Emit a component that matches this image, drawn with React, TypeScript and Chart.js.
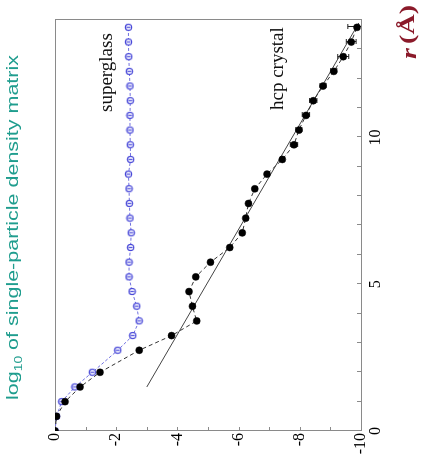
import React, { useEffect, useRef } from 'react';
import { Chart, registerables } from 'chart.js';
Chart.register(...registerables);

// r (Å) positions of the samples
const hcpR = [0, 0.5, 1.0, 1.5, 2.0, 2.75, 3.25, 3.75, 4.25, 4.75, 5.25, 5.75, 6.25, 6.75, 7.25, 7.75, 8.25, 8.75, 9.25, 9.75, 10.25, 10.75, 11.25, 11.75, 12.25, 12.75, 13.25, 13.75];
const hcpLog = [0, -0.05, -0.33, -0.82, -1.47, -2.75, -3.81, -4.63, -4.49, -4.38, -4.6, -5.08, -5.71, -6.12, -6.23, -6.32, -6.53, -6.93, -7.43, -7.81, -7.97, -8.2, -8.44, -8.76, -9.11, -9.42, -9.68, -9.87];

const glassR = [0, 0.5, 1.0, 1.5, 2.0, 2.75, 3.25, 3.75, 4.25, 4.75, 5.25, 5.75, 6.25, 6.75, 7.25, 7.75, 8.25, 8.75, 9.25, 9.75, 10.25, 10.75, 11.25, 11.75, 12.25, 12.75, 13.25, 13.75];
const glassLog = [0, -0.05, -0.22, -0.65, -1.22, -2.05, -2.54, -2.75, -2.67, -2.52, -2.42, -2.42, -2.47, -2.49, -2.45, -2.43, -2.42, -2.4, -2.47, -2.46, -2.45, -2.45, -2.46, -2.45, -2.43, -2.41, -2.4, -2.4];

// error bars of the hcp crystal points
const errR = [9.25, 9.75, 10.25, 10.75, 11.25, 11.75, 12.25, 12.75, 13.25, 13.75];
const errSize = [0.06, 0.12, 0.1, 0.12, 0.12, 0.1, 0.1, 0.18, 0.16, 0.3];

// straight-line fit
const fitR = [1.5, 13.9];
const fitLog = [-3.0, -9.93];

const xTickValues = [0, 5, 10];
const xTickLabels = ['0', '5', '10'];
const yTickValues = [0, -2, -4, -6, -8, -10];
const yTickLabels = ['0', '-2', '-4', '-6', '-8', '-10'];

const titleParts = ['log', '10', ' of single-particle density matrix'];
const glassLabel = 'superglass';
const hcpLabel = 'hcp crystal';
const xTitleParts = ['r', '(Å)'];

const W = 461;
const H = 423;

export default function App() {
  const ref = useRef<HTMLCanvasElement>(null);

  useEffect(() => {
    const canvas = ref.current!;

    const marker = document.createElement('canvas');
    marker.width = 9;
    marker.height = 9;
    const m = marker.getContext('2d')!;
    m.strokeStyle = '#4848d8';
    m.fillStyle = '#e4e4fa';
    m.lineWidth = 1.1;
    m.beginPath();
    m.arc(4.5, 4.5, 3.1, 0, Math.PI * 2);
    m.fill();
    m.stroke();
    m.lineWidth = 0.9;
    m.beginPath();
    m.moveTo(4.5, 2.6);
    m.lineTo(4.5, 6.4);
    m.stroke();

    const framePlugin = {
      id: 'frame',
      beforeDatasetsDraw(chart: any) {
        const { ctx, chartArea: a, scales } = chart;
        ctx.save();
        ctx.strokeStyle = '#8a8a8a';
        ctx.lineWidth = 1;
        ctx.strokeRect(Math.round(a.left) + 0.5, Math.round(a.top) + 0.5, Math.round(a.right - a.left), Math.round(a.bottom - a.top));
        const tl = 4;
        ctx.beginPath();
        scales.x.ticks.forEach((t: any) => {
          const px = Math.round(scales.x.getPixelForValue(t.value)) + 0.5;
          ctx.moveTo(px, a.bottom);
          ctx.lineTo(px, a.bottom - tl);
        });
        scales.y.ticks.forEach((t: any) => {
          const py = Math.round(scales.y.getPixelForValue(t.value)) + 0.5;
          ctx.moveTo(a.left, py);
          ctx.lineTo(a.left + tl, py);
        });
        ctx.stroke();
        ctx.restore();
      },
    };

    const errorPlugin = {
      id: 'errs',
      beforeDatasetsDraw(chart: any) {
        const { ctx, chartArea: a, scales } = chart;
        ctx.save();
        ctx.beginPath();
        ctx.rect(a.left, a.top, a.right - a.left, a.bottom - a.top);
        ctx.clip();
        ctx.strokeStyle = '#222';
        ctx.lineWidth = 1;
        ctx.beginPath();
        errR.forEach((r, i) => {
          const yv = hcpLog[hcpR.indexOf(r)];
          const px = Math.round(scales.x.getPixelForValue(r)) + 0.5;
          const p1 = scales.y.getPixelForValue(yv + errSize[i]);
          const p2 = scales.y.getPixelForValue(yv - errSize[i]);
          ctx.moveTo(px, p1);
          ctx.lineTo(px, p2);
          ctx.moveTo(px - 2.5, p1);
          ctx.lineTo(px + 2.5, p1);
          ctx.moveTo(px - 2.5, p2);
          ctx.lineTo(px + 2.5, p2);
        });
        ctx.stroke();
        ctx.restore();
      },
    };

    const textPlugin = {
      id: 'texts',
      afterDraw(chart: any) {
        const { ctx } = chart;
        ctx.save();
        ctx.textBaseline = 'alphabetic';
        ctx.textAlign = 'left';

        // title (teal), stretched along the text
        const big = '17px "Liberation Sans", Arial, sans-serif';
        const small = '11px "Liberation Sans", Arial, sans-serif';
        ctx.font = big;
        const w0 = ctx.measureText(titleParts[0]).width;
        ctx.font = small;
        const w1 = ctx.measureText(titleParts[1]).width;
        ctx.font = big;
        const w2 = ctx.measureText(titleParts[2]).width;
        const sx = 345 / (w0 + w1 + w2);
        ctx.save();
        ctx.translate(61, 18);
        ctx.scale(sx, 1);
        ctx.fillStyle = '#1f9d8e';
        ctx.font = big;
        ctx.fillText(titleParts[0], 0, 0);
        ctx.font = small;
        ctx.fillText(titleParts[1], w0, 4);
        ctx.font = big;
        ctx.fillText(titleParts[2], w0 + w1, 0);
        ctx.restore();

        // annotations
        ctx.fillStyle = '#111';
        ctx.font = '19px "Liberation Serif", "Times New Roman", serif';
        ctx.fillText(glassLabel, 349, 112);
        ctx.fillText(hcpLabel, 351, 283);

        // x-axis title r (Å), stretched like the title
        ctx.save();
        ctx.translate(402, 416);
        ctx.scale(1.4, 1);
        ctx.fillStyle = '#8b1a2a';
        ctx.font = 'italic bold 20px "Liberation Serif", serif';
        const wr = ctx.measureText(xTitleParts[0]).width;
        ctx.fillText(xTitleParts[0], 0, 0);
        ctx.font = 'bold 20px "Liberation Serif", serif';
        ctx.fillText(xTitleParts[1], wr + 3, -2);
        ctx.restore();
        ctx.restore();
      },
    };

    const chart = new Chart(canvas, {
      type: 'scatter',
      data: {
        datasets: [
          {
            label: 'hcp crystal',
            data: hcpR.map((r, i) => ({ x: r, y: hcpLog[i] })),
            showLine: true,
            borderColor: '#333',
            borderWidth: 1,
            borderDash: [4, 3],
            pointRadius: 3.5,
            pointBackgroundColor: '#000',
            pointBorderColor: '#000',
            pointBorderWidth: 0.5,
          },
          {
            label: 'superglass',
            data: glassR.map((r, i) => ({ x: r, y: glassLog[i] })),
            showLine: true,
            borderColor: '#7070e0',
            borderWidth: 1,
            borderDash: [3, 2],
            pointStyle: marker as any,
            pointRadius: 4,
          },
          {
            label: 'fit',
            data: fitR.map((r, i) => ({ x: r, y: fitLog[i] })),
            showLine: true,
            borderColor: '#444',
            borderWidth: 1,
            pointRadius: 0,
          },
        ],
      },
      options: {
        responsive: false,
        animation: false,
        devicePixelRatio: 1,
        layout: { padding: { left: 0, right: 20, top: 55, bottom: 0 } },
        plugins: { legend: { display: false }, tooltip: { enabled: false }, title: { display: false } },
        scales: {
          x: {
            type: 'linear',
            min: 0,
            max: 14,
            grid: { display: false, drawTicks: false },
            border: { display: false },
            ticks: {
              stepSize: 1,
              autoSkip: false,
              maxRotation: 0,
              padding: 5,
              color: '#000',
              font: { family: '"Liberation Serif", serif', size: 16 },
              callback: (v: any) => {
                const i = xTickValues.indexOf(Number(v));
                return i >= 0 ? xTickLabels[i] : '';
              },
            },
            afterFit: (s: any) => {
              s.height = 62;
            },
          },
          y: {
            type: 'linear',
            min: -10,
            max: 0,
            grid: { display: false, drawTicks: false },
            border: { display: false },
            ticks: {
              stepSize: 1,
              autoSkip: false,
              padding: 2,
              color: '#000',
              font: { family: '"Liberation Serif", serif', size: 16 },
              callback: (v: any) => {
                const i = yTickValues.indexOf(Number(v));
                return i >= 0 ? yTickLabels[i] : '';
              },
            },
            afterFit: (s: any) => {
              s.width = 30;
            },
          },
        },
      },
      plugins: [framePlugin, errorPlugin, textPlugin],
    } as any);

    return () => chart.destroy();
  }, []);

  return (
    <div
      style={{
        position: 'absolute',
        left: 0,
        top: 0,
        width: W,
        height: H,
        transformOrigin: '0 0',
        transform: `translate(0px, ${W}px) rotate(-90deg)`,
        background: '#fff',
      }}
    >
      <canvas ref={ref} width={W} height={H} style={{ display: 'block', width: W, height: H }} />
    </div>
  );
}
